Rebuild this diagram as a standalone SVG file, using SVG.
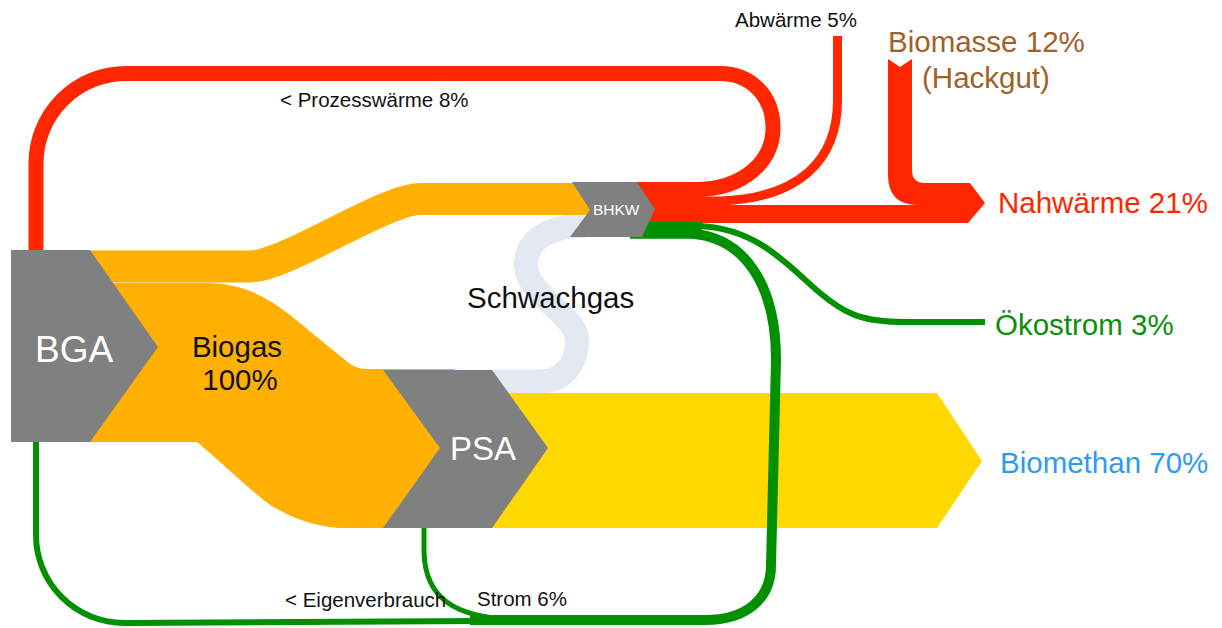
<svg xmlns="http://www.w3.org/2000/svg" width="1222" height="628" viewBox="0 0 1222 628">
<style>
.node{fill:#808080}
.red{fill:none;stroke:#FF2600}
.grn{fill:none;stroke:#009000}
.lbl{font-family:"Liberation Sans",Arial,sans-serif;font-size:20.5px;fill:#111}
.big{font-family:"Liberation Sans",Arial,sans-serif;font-size:29.5px}
.wt{font-family:"Liberation Sans",Arial,sans-serif;fill:#fff}
</style>
<rect width="1222" height="628" fill="#fff"/>
<g id="connectors">
  <!-- Schwachgas -->
  <path d="M 490 381.5 L 540 381.5 C 565 381.5 577 362 577 340 C 577 315 526 295 526 265 C 526 242 545 226 585 226" fill="none" stroke="#E3E8F2" stroke-width="24"/>
  <!-- Biogas to BHKW -->
  <path d="M 60 266.5 L 250 266.5 C 285 266.5 385 199 420 199 L 600 199" fill="none" stroke="#FFB000" stroke-width="32"/>
  <!-- Biogas to PSA -->
  <path d="M 60 283 L 205 283 C 240 283 265 295 290 315 L 345 360 C 352 366 358 369 368 369 L 455 369 L 455 528 L 345 528 C 320 528 295 520 270 505 C 250 490 230 470 197 442 L 60 442 Z" fill="#FFB000"/>
  <!-- Biomethan -->
  <path d="M 480 393 L 937 393 L 982 461 L 937 528 L 480 528 Z" fill="#FFD800"/>
  <!-- red outlet -->
  <rect x="630" y="182" width="72" height="41" fill="#FF2600"/>
  <path class="red" stroke-width="15" d="M 630 189.5 L 695 189.5 C 745 189.5 773 160 773 128 C 773 95 750 73.5 720 73.5 L 126 73.5 A 90 90 0 0 0 36 163.5 L 36 255"/>
  <path class="red" stroke-width="9" d="M 837.5 36 L 837.5 100 C 837.5 160 800 198 720 201 L 630 201"/>
  <path d="M 630 205 L 918 205 Q 888 205 888 175 L 888 59 L 900 67 L 912 59 L 912 170 Q 912 183 925 183 L 970 183 L 985 203 L 968 223 L 630 223 Z" fill="#FF2600"/>
  <!-- green -->
  <rect x="630" y="222" width="72" height="16.5" fill="#009000"/>
  <path class="grn" stroke-width="6" d="M 630 225 L 700 226 C 760 229 790 268 820 293 C 845 314 862 322 905 322 L 985 322"/>
  <path class="grn" stroke-width="6" d="M 36 440 L 36 535 A 88 88 0 0 0 124 623 L 480 621"/>
  <path class="grn" stroke-width="5" d="M 424 526 L 424 552 C 425 598 455 617 510 619 L 560 619"/>
  <path class="grn" stroke-width="10" d="M 630 233.5 L 690 233.5 C 745 237 776 285 776 360 L 771 565 C 771 600 745 620 705 620 L 470 620"/>
</g>
<g id="BGA">
  <polygon class="node" points="11,250 90,250 158,347 90,442 11,442"/>
  <text class="wt" x="35" y="362" font-size="37">BGA</text>
</g>
<g id="PSA">
  <polygon class="node" points="383,370 492,370 548,448 492,528 383,528 440,448"/>
  <text class="wt" x="450" y="460" font-size="33">PSA</text>
</g>
<g id="BHKW">
  <polygon class="node" points="572,182 637,182 655,209 642,237 570,237 590,210"/>
  <text class="wt" x="593" y="215" font-size="15.5">BHKW</text>
</g>
<g id="labels">
  <text class="big" x="237" y="357" text-anchor="middle" font-size="28" fill="#111">Biogas</text>
  <text class="big" x="240" y="390" text-anchor="middle" font-size="28" fill="#111">100%</text>
  <text class="big" x="467" y="308" font-size="28.5" fill="#111">Schwachgas</text>
  <text class="lbl" x="280" y="107">&lt; Prozesswärme 8%</text>
  <text class="lbl" x="735" y="27">Abwärme 5%</text>
  <text class="lbl" x="285" y="607">&lt; Eigenverbrauch</text>
  <text class="lbl" x="477" y="606">Strom 6%</text>
  <text class="big" x="888" y="52" fill="#A0602A">Biomasse 12%</text>
  <text class="big" x="922" y="88" fill="#A0602A">(Hackgut)</text>
  <text class="big" x="998" y="213" fill="#FF2600">Nahwärme 21%</text>
  <text class="big" x="995" y="335" fill="#0A8F0A">Ökostrom 3%</text>
  <text class="big" x="1000" y="473" fill="#2E9BF0">Biomethan 70%</text>
</g>
</svg>
